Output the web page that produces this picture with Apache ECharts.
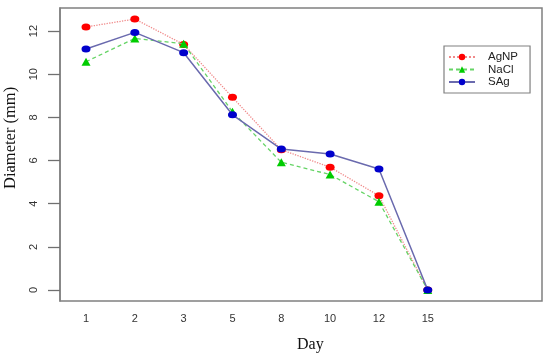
<!DOCTYPE html>
<html><head><meta charset="utf-8">
<script src="https://cdn.jsdelivr.net/npm/echarts@6/dist/echarts.min.js"></script>
<style>html,body{margin:0;padding:0;background:#fff}#c{width:550px;height:361px}</style>
</head><body><div id="c"></div>
<script>
const days = ['1','2','3','5','8','10','12','15'];
const agnp = [12.19, 12.56, 11.38, 8.93, 6.5, 5.69, 4.37, 0];
const nacl = [10.58, 11.66, 11.41, 8.26, 5.92, 5.35, 4.09, 0];
const sag  = [11.17, 11.94, 11.0, 8.12, 6.53, 6.30, 5.61, 0];
const yTicks = [0, 2, 4, 6, 8, 10, 12];

const toPts = arr => arr.map((v, i) => [i, v]);
const chart = echarts.init(document.getElementById('c'), null, {renderer: 'canvas'});
const axisFont = {fontFamily: 'Liberation Sans, Arial, sans-serif', fontSize: 11, color: '#333'};
chart.setOption({
  animation: false,
  backgroundColor: '#fff',
  grid: {left: 60, top: 8, right: 8, bottom: 60, show: true, borderColor: '#808080', borderWidth: 1.5, backgroundColor: 'transparent'},
  xAxis: {
    type: 'value', min: -0.533, max: 9.34, position: 'bottom',
    axisLine: {show: false, onZero: false}, axisTick: {show: false}, splitLine: {show: false},
    axisLabel: Object.assign({customValues: days.map((d, i) => i), margin: 12,
      formatter: v => days[Math.round(v)] ?? ''}, axisFont)
  },
  yAxis: {
    type: 'value', min: -0.51, max: 13.07, position: 'left',
    axisLine: {show: true, onZero: false, lineStyle: {color: '#808080', width: 1.5}}, splitLine: {show: false},
    axisTick: {show: true, inside: false, customValues: yTicks, length: 12, lineStyle: {color: '#707070', width: 1.3}},
    axisLabel: Object.assign({customValues: yTicks, rotate: 90, margin: 21}, axisFont)
  },
  legend: {
    left: 444, top: 46, orient: 'vertical',
    padding: [5, 12, 5, 4], borderColor: '#808080', borderWidth: 1.2,
    itemWidth: 26, itemHeight: 8, itemGap: 0.5,
    textStyle: {fontFamily: 'Liberation Sans, Arial, sans-serif', fontSize: 11.5, color: '#222', lineHeight: 12, padding: [0, 0, 0, 8]},
    data: ['AgNP', 'NaCl', 'SAg']
  },
  series: [
    {name: 'AgNP', type: 'line', data: toPts(agnp), symbol: 'circle', symbolSize: [9, 7],
      itemStyle: {color: '#ff0000'}, lineStyle: {color: '#f08a8a', type: 'dotted', width: 1.3}, z: 2},
    {name: 'NaCl', type: 'line', data: toPts(nacl), symbol: 'triangle', symbolSize: [9, 8],
      itemStyle: {color: '#00cc00'}, lineStyle: {color: '#66d466', type: [4, 3], width: 1.3}, z: 3},
    {name: 'SAg', type: 'line', data: toPts(sag), symbol: 'circle', symbolSize: [9, 7],
      itemStyle: {color: '#0000cc'}, lineStyle: {color: '#6a6aae', type: 'solid', width: 1.5}, z: 4}
  ],
  graphic: [
    {type: 'text', left: 297, top: 337, style: {text: 'Day', font: '16px "Liberation Serif", "Times New Roman", serif', fill: '#111'}},
    {type: 'text', x: 2, y: 189, rotation: Math.PI / 2, style: {text: 'Diameter (mm)', font: '16.5px "Liberation Serif", "Times New Roman", serif', fill: '#111'}}
  ]
});
</script></body></html>
